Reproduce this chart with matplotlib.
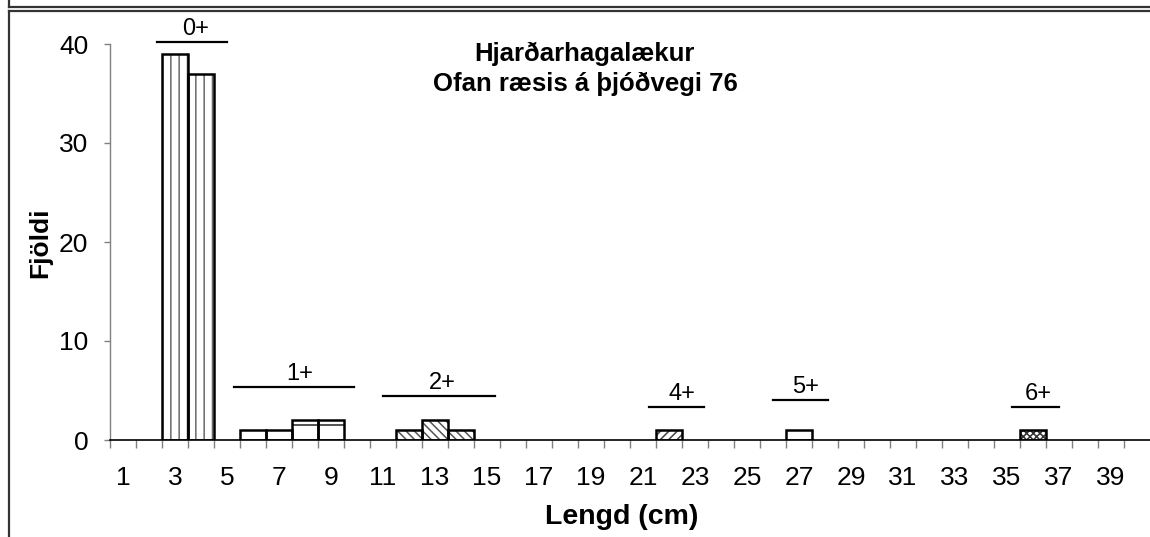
import matplotlib
matplotlib.use("Agg")
import matplotlib.pyplot as plt
import numpy as np
from matplotlib.lines import Line2D

plt.rcParams['font.family'] = ['Liberation Sans', 'DejaVu Sans']
plt.rcParams['hatch.linewidth'] = 1.1

# ---- data ----
n_categories = 40
x_tick_labels = [str(i) for i in range(1, 40, 2)]
y_ticks = [0, 10, 20, 30, 40]

age_labels = ['0+', '1+', '2+', '4+', '5+', '6+']
age_lengths = [[3, 4], [6, 7, 8, 9], [12, 13, 14], [22], [27], [36]]
age_counts = [[39, 37], [1, 1, 2, 2], [1, 2, 1], [1], [1], [1]]

# age-group marker lines: (x start, x end, level) and label x
age_line_x0 = [2.31, 5.27, 11.0, 21.23, 26.0, 35.19]
age_line_x1 = [4.99, 9.88, 15.3, 23.35, 28.1, 37.0]
age_line_y = [40.2, 5.35, 4.44, 3.33, 4.04, 3.33]
age_text_x = [3.8, 7.8, 13.3, 22.5, 27.25, 36.2]

# ---- styles ----
hatches = ['||', '-', '\\\\\\\\', '////', '-', 'xxxxx']
hatch_colors = ['#6a6a6a', '#222222', '#555555', '#444444', '#222222', '#333333']

W, H = 1150, 537
fig = plt.figure(figsize=(W / 100, H / 100), dpi=100)

# outer frame lines (cropped chart border)
fig.add_artist(Line2D([8.5 / W, 8.5 / W], [1, 1 - 7 / H], color='#333333', lw=1.6))
fig.add_artist(Line2D([8.5 / W, 8.5 / W], [1 - 10.5 / H, 0], color='#333333', lw=1.6))
fig.add_artist(Line2D([8.5 / W, 1], [1 - 6.5 / H, 1 - 6.5 / H], color='#333333', lw=1.6))
fig.add_artist(Line2D([8.5 / W, 1], [1 - 10.5 / H, 1 - 10.5 / H], color='#333333', lw=1.6))

ax = fig.add_axes([110 / W, 1 - 440 / H, 1040 / W, 396 / H])
ax.set_xlim(0.5, n_categories + 0.5)
ax.set_ylim(0, 40)

for xs, hs, hatch, hc in zip(age_lengths, age_counts, hatches, hatch_colors):
    ax.bar(xs, hs, width=1.0, color='white', edgecolor=hc, hatch=hatch, linewidth=0, zorder=2)
    ax.bar(xs, hs, width=1.0, fill=False, edgecolor='black', linewidth=1.8, zorder=3)

for lab, x0, x1, y, tx in zip(age_labels, age_line_x0, age_line_x1, age_line_y, age_text_x):
    ax.plot([x0, x1], [y, y], color='black', lw=1.6, clip_on=False, zorder=4)
    ax.text(tx, y + 0.25, lab, ha='center', va='bottom', fontsize=17, clip_on=False)

for s in ['top', 'right']:
    ax.spines[s].set_visible(False)
ax.spines['left'].set_color('#808080')
ax.spines['left'].set_linewidth(1.0)
ax.spines['bottom'].set_color('black')
ax.spines['bottom'].set_linewidth(1.2)

ax.set_xticks(np.arange(1, 40, 2))
ax.set_xticklabels(x_tick_labels, fontsize=19)
ax.set_xticks(np.arange(0.5, n_categories + 0.5, 1.0), minor=True)
ax.tick_params(axis='x', which='major', length=0, pad=19)
ax.tick_params(axis='x', which='minor', length=6, width=1, color='#808080', direction='out')
ax.set_yticks(y_ticks)
ax.set_yticklabels([str(v) for v in y_ticks], fontsize=19)
ax.tick_params(axis='y', which='major', length=4.5, width=1, color='#808080', pad=11)

fig.text(584 / W, 1 - 61 / H, 'Hjarðarhagalækur', ha='center', va='baseline',
         fontsize=18.5, fontweight='bold')
fig.text(585 / W, 1 - 90.5 / H, 'Ofan ræsis á þjóðvegi 76', ha='center', va='baseline',
         fontsize=18.5, fontweight='bold')
fig.text(622 / W, 1 - 524 / H, 'Lengd (cm)', ha='center', va='baseline',
         fontsize=20.5, fontweight='bold')
fig.text(40 / W, 1 - 243 / H, 'Fjöldi', ha='center', va='center', rotation=90,
         fontsize=19, fontweight='bold')

fig.savefig('out.png', dpi=100)
